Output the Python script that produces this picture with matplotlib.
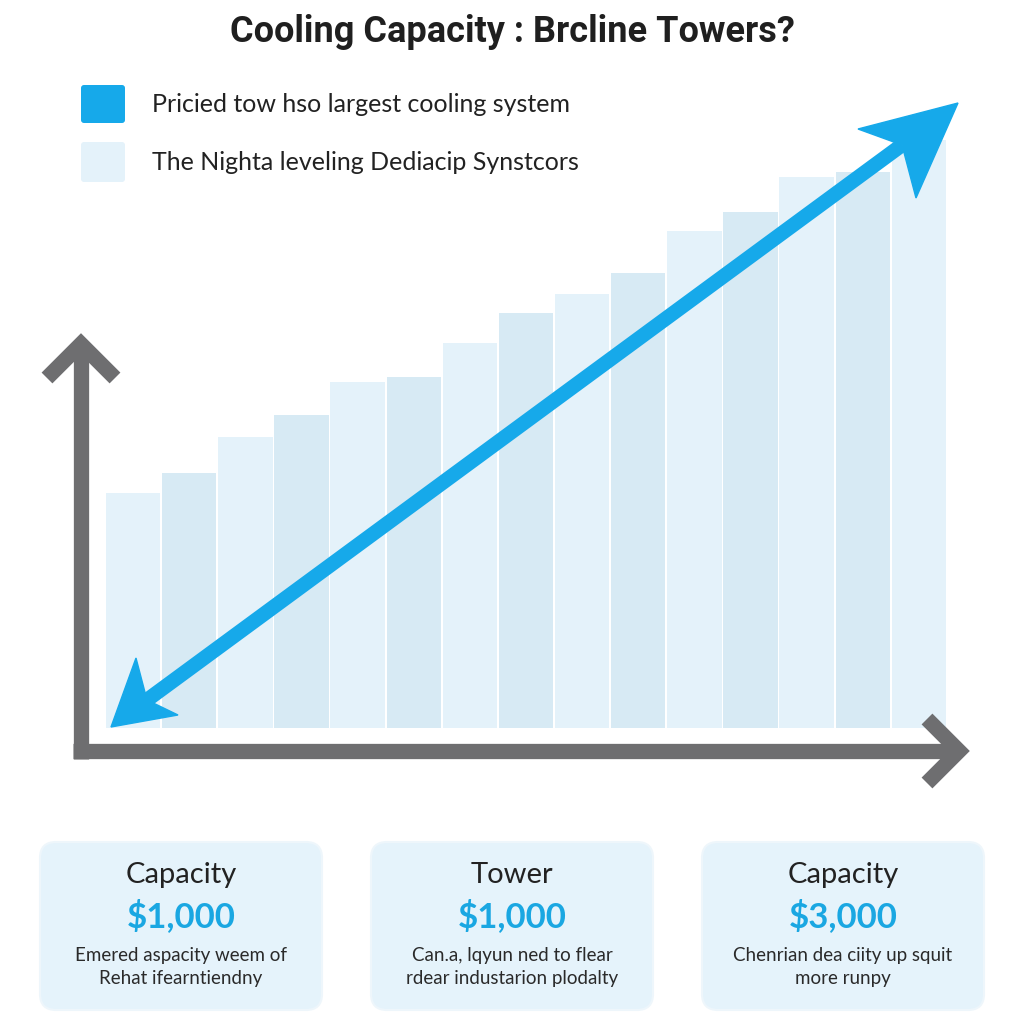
import matplotlib
matplotlib.use("Agg")
import matplotlib.pyplot as plt
from matplotlib.patches import FancyBboxPatch, Polygon

# data
bar_values = [235, 255, 291, 313, 346, 351, 385, 415, 434, 455, 497, 516, 551, 556, 588]
legend_labels = ["Pricied tow hso largest cooling system",
                 "The Nighta leveling Dediacip Synstcors"]
card_titles = ["Capacity", "Tower", "Capacity"]
card_values = ["$1,000", "$1,000", "$3,000"]
card_texts = ["Emered aspacity weem of\nRehat ifearntiendny",
              "Can.a, lqyun ned to flear\nrdear industarion plodalty",
              "Chenrian dea ciity up squit\nmore runpy"]
title = "Cooling Capacity : Brcline Towers?"

blue = "#16a9ea"
light = "#e4f2fa"
darker = "#d7eaf4"
grey = "#6e6e70"
card_bg = "#e5f3fb"

W = 1024
fig = plt.figure(figsize=(10.24, 10.24), dpi=100)
fig.patch.set_facecolor("white")

# overlay axes in pixel coords for the decorations
ov = fig.add_axes([0, 0, 1, 1], zorder=0)
ov.set_xlim(0, W)
ov.set_ylim(W, 0)
ov.axis("off")

# bar axes
ax = fig.add_axes([105 / W, 1 - 728 / W, 842 / W, 628 / W], zorder=1)
ax.patch.set_alpha(0)
ax.set_xlim(-0.5, len(bar_values) - 0.5)
ax.set_ylim(0, 628)
ax.axis("off")

xs = range(len(bar_values))
colors = [light if i % 2 == 0 else darker for i in xs]
ax.bar(xs, bar_values, width=0.97, color=colors, edgecolor="none")

# grey axis arrows (on top layer)
top = fig.add_axes([0, 0, 1, 1], zorder=2)
top.set_xlim(0, W)
top.set_ylim(W, 0)
top.axis("off")
top.patch.set_alpha(0)
lw_axis = 11
top.plot([81, 81], [759, 346], color=grey, lw=lw_axis, solid_capstyle="butt")
top.plot([47, 81, 115], [378, 344, 378], color=grey, lw=lw_axis,
         solid_joinstyle="miter", solid_capstyle="butt")
top.plot([73, 957], [751, 751], color=grey, lw=lw_axis, solid_capstyle="butt")
top.plot([927, 959, 927], [719, 751, 783], color=grey, lw=lw_axis,
         solid_joinstyle="miter", solid_capstyle="butt")

# blue double-headed trend arrow with notched heads
tip_a, tip_b = (111, 727), (958, 103)
notch_a, notch_b = (147, 700), (902, 145)
top.plot([notch_a[0], notch_b[0]], [notch_a[1], notch_b[1]], color=blue, lw=10.5,
         solid_capstyle="butt")
top.add_patch(Polygon([tip_a, (136, 658), notch_a, (178, 715)], closed=True,
                      fc=blue, ec=blue, lw=1))
top.add_patch(Polygon([tip_b, (858, 129), notch_b, (916, 198)], closed=True,
                      fc=blue, ec=blue, lw=1))

# title
fig.text(0.5, 1 - 32 / W, title, ha="center", va="center",
         fontsize=26, fontweight="bold", family="Roboto", color="#1f1f1f")

# legend
ov.add_patch(FancyBboxPatch((81, 85), 44, 38, boxstyle="round,pad=0,rounding_size=3",
                            fc=blue, ec="none"))
ov.add_patch(FancyBboxPatch((81, 142), 44, 40, boxstyle="round,pad=0,rounding_size=3",
                            fc=light, ec="none"))
ov.text(152, 104, legend_labels[0], fontsize=18, family="Lato", va="center", color="#222222")
ov.text(152, 162, legend_labels[1], fontsize=18, family="Lato", va="center", color="#222222")

# cards
card_x = [40, 371, 702]
for cx, t, v, d in zip(card_x, card_titles, card_values, card_texts):
    ov.add_patch(FancyBboxPatch((cx, 842), 282, 168,
                                boxstyle="round,pad=0,rounding_size=16",
                                fc=card_bg, ec="#eef6fb", lw=1.5))
    mid = cx + 141
    ov.text(mid, 875, t, ha="center", va="center", fontsize=21, family="Lato",
            color="#222222")
    ov.text(mid, 916, v, ha="center", va="center", fontsize=25, family="Lato",
            fontweight="bold", color="#1aa7e2")
    ov.text(mid, 967, d, ha="center", va="center", fontsize=13.5, family="Lato",
            color="#2a2a2a", linespacing=1.45)

fig.savefig("out.png", dpi=100, facecolor="white")
